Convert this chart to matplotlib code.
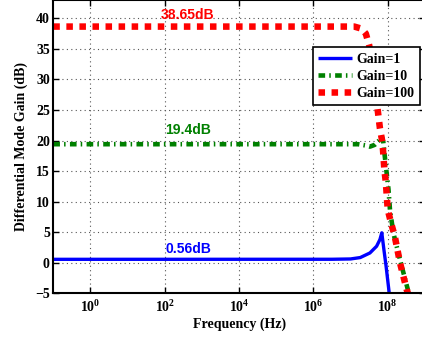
import matplotlib
matplotlib.use("Agg")
import matplotlib.pyplot as plt
import numpy as np

# ---- data ----
series_labels = ["Gain=1", "Gain=10", "Gain=100"]

# Gain=1 curve: log10(frequency) and gain in dB
g1_logf = [-1.0, 6.5, 7.0, 7.26, 7.52, 7.70, 7.79, 7.84, 7.90, 7.955, 8.0, 8.06]
g1_db   = [0.56, 0.57, 0.62, 0.85, 1.6, 2.7, 3.8, 4.9, 2.0, -0.55, -2.9, -6.0]

# Gain=10 curve
g10_logf = [-1.0, 7.2, 7.4, 7.52, 7.65, 7.75, 7.84, 7.88, 7.91, 8.02, 8.06, 8.15, 8.33, 8.55, 8.6]
g10_db   = [19.4, 19.4, 19.2, 19.0, 19.3, 19.9, 20.6, 19.8, 18.0, 12.0, 8.7, 4.9, 0.5, -4.6, -6.0]

# Gain=100 curve
g100_logf = [-1.0, 7.1, 7.3, 7.41, 7.5, 7.6, 7.7, 7.79, 7.86, 7.91, 7.95, 8.0, 8.09, 8.19, 8.33, 8.51, 8.6]
g100_db   = [38.65, 38.65, 38.3, 37.5, 35.6, 31.5, 26.5, 22.0, 19.6, 15.2, 13.1, 8.7, 6.5, 4.3, 0.0, -4.4, -6.0]

annotations = ["0.56dB", "19.4dB", "38.65dB"]
annot_y = [2.3, 21.8, 40.5]
annot_f = 420.0

xtick_vals = [1e0, 1e2, 1e4, 1e6, 1e8]
xtick_labels = [r"$10^{0}$", r"$10^{2}$", r"$10^{4}$", r"$10^{6}$", r"$10^{8}$"]
ytick_vals = [-5, 0, 5, 10, 15, 20, 25, 30, 35, 40]

colors = ["#0000ff", "#008000", "#ff0000"]

# ---- style ----
plt.rcParams["mathtext.fontset"] = "custom"
plt.rcParams["mathtext.rm"] = "Liberation Serif:bold"
plt.rcParams["mathtext.it"] = "Liberation Serif:bold"
plt.rcParams["mathtext.bf"] = "Liberation Serif:bold"
plt.rcParams["font.family"] = ["Liberation Serif", "DejaVu Serif"]
plt.rcParams["font.weight"] = "bold"
plt.rcParams["axes.unicode_minus"] = True

W, H = 422, 338
fig = plt.figure(figsize=(W / 100, H / 100), dpi=100)
left, right, bottom, top = 53.3, 424.9, 293.3, 0.0
ax = fig.add_axes([left / W, (H - bottom) / H, (right - left) / W, (bottom - top) / H])

f1 = 10 ** np.array(g1_logf)
f10 = 10 ** np.array(g10_logf)
f100 = 10 ** np.array(g100_logf)

ax.plot(f1, g1_db, color=colors[0], lw=2.4, solid_capstyle="butt", label=series_labels[0])
ax.plot(f10, g10_db, color=colors[1], lw=3.3, linestyle=(0, (1.45, 0.9, 0.33, 0.95)),
        dash_capstyle="butt", label=series_labels[1])
ax.plot(f100, g100_db, color=colors[2], lw=4.7, linestyle=(0, (1.0, 1.0)),
        dash_capstyle="butt", label=series_labels[2])

ax.set_xscale("log")
ax.set_xlim(1e-1, 1e9)
ax.set_ylim(-5, 43)
ax.set_xticks(xtick_vals)
ax.set_xticklabels(xtick_labels)
ax.xaxis.set_minor_locator(matplotlib.ticker.NullLocator())
ax.set_yticks(ytick_vals)

ax.grid(True, which="major", linestyle=(0, (1, 3)), color="#555555", lw=0.8)
ax.tick_params(axis="both", which="major", direction="in", length=4, width=1,
               top=True, right=True, labelsize=10, colors="black")
ax.tick_params(axis="y", pad=2.5)
ax.tick_params(axis="x", pad=4)
for lab in ax.get_yticklabels():
    lab.set_fontweight("bold")
for sp in ax.spines.values():
    sp.set_linewidth(1.5)
    sp.set_color("black")

ax.set_xlabel("Frequency (Hz)", fontsize=10, fontweight="bold", labelpad=2)
ax.set_ylabel("Differential Mode Gain (dB)", fontsize=10, fontweight="bold", labelpad=5)

for txt, yv, c in zip(annotations, annot_y, colors):
    ax.text(annot_f, yv, txt, color=c, ha="center", va="center", fontsize=10,
            fontweight="bold", family=["Liberation Sans", "DejaVu Sans"])

leg = ax.legend(loc="upper right", bbox_to_anchor=(420 / W, 1 - 47 / H),
                bbox_transform=fig.transFigure, borderaxespad=0, fancybox=False,
                framealpha=1, edgecolor="black", fontsize=10, handlelength=2.45,
                handletextpad=0.3, labelspacing=0.3, borderpad=0.4)
leg.get_frame().set_linewidth(1.2)
for t in leg.get_texts():
    t.set_fontweight("bold")

fig.savefig("out.png", dpi=100)
